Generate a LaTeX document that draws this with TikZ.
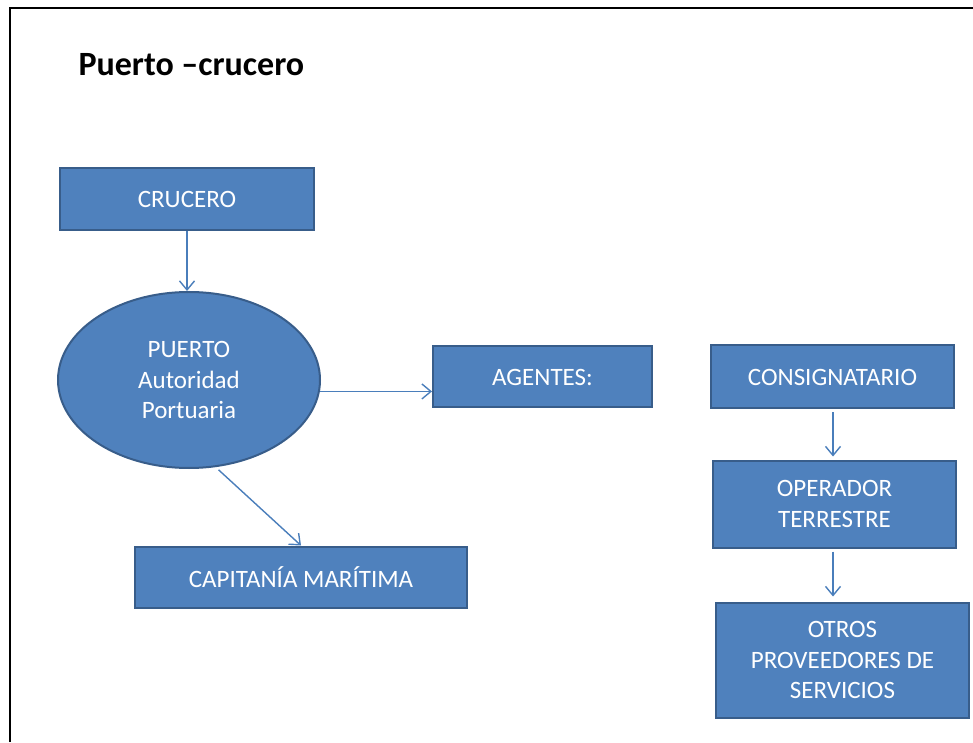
\documentclass[tikz,border=0pt]{standalone}
\usepackage{fontspec}
\setmainfont{Carlito}
\usetikzlibrary{shapes.geometric, arrows.meta, positioning}

\definecolor{boxfill}{HTML}{4F81BD}
\definecolor{boxline}{HTML}{385D8A}
\definecolor{arrowline}{HTML}{4A7EBB}

\begin{document}
\begin{tikzpicture}[
    x=1pt, y=1pt,
    entity/.style={rectangle, draw=boxline, fill=boxfill, line width=2pt, text=white, align=center, font=\fontsize{25}{30.5}\selectfont},
    port/.style={ellipse, draw=boxline, fill=boxfill, line width=2pt, text=white, align=center, inner sep=0pt, minimum width=262pt, minimum height=176pt, font=\fontsize{25}{30.5}\selectfont},
    arrow/.style={-{Straight Barb[length=9pt, width=15pt]}, draw=arrowline, line width=1.4pt}
]
\useasboundingbox (0,0) rectangle (973,742);

% Frame and title
\draw[line width=2pt] (10,0) -- (10,734) -- (973,734);
\node[anchor=west, font=\fontsize{34}{40}\selectfont\bfseries] (title) at (75,677) {Puerto –crucero};

% Nodes
\node[entity, minimum width=254pt, minimum height=62pt] (crucero) at (187,543) {CRUCERO};
\node[port, below=60pt of crucero, xshift=2pt] (puerto) {PUERTO\\Autoridad\\Portuaria};
\node[entity, minimum width=219pt, minimum height=61pt, right=111pt of puerto, yshift=3pt] (agentes) {AGENTES:};
\node[entity, minimum width=332pt, minimum height=61pt] (capitania) at (301,165) {CAPITANÍA MARÍTIMA};
\node[entity, minimum width=243pt, minimum height=63pt, right=57pt of agentes] (consignatario) {CONSIGNATARIO};
\node[entity, minimum width=243pt, minimum height=87pt, below=50pt of consignatario, xshift=2pt] (operador) {OPERADOR\\TERRESTRE};
\node[entity, minimum width=253pt, minimum height=115pt, below=53pt of operador, xshift=8pt] (otros) {OTROS\\PROVEEDORES DE\\SERVICIOS};

% Arrows
\draw[arrow] (crucero.south) -- (crucero.south |- puerto.north);
\draw[arrow] (puerto.-5) -- (agentes.west |- puerto.-5);
\draw[arrow, shorten <=4pt] (puerto.-73) -- (capitania.north);
\draw[arrow, shorten <=3pt, shorten >=3pt] (consignatario.south -| 833,0) -- (operador.north -| 833,0);
\draw[arrow, shorten <=3pt, shorten >=5pt] (operador.south -| 833,0) -- (otros.north -| 833,0);

\end{tikzpicture}
\end{document}
